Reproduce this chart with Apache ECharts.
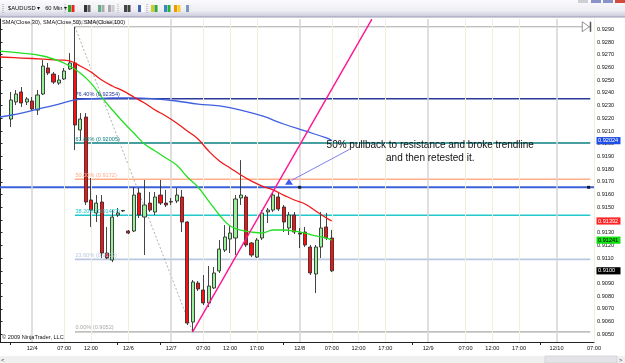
<!DOCTYPE html>
<html><head><meta charset="utf-8">
<script src="https://cdn.jsdelivr.net/npm/echarts@6/dist/echarts.min.js"></script>
<style>html,body{margin:0;padding:0;background:#fff;overflow:hidden}#c{width:625px;height:363px}</style>
</head><body><div id="c"></div>
<script>
// ---------------- data ----------------
const slotCount = 112;            // hourly slots across the x axis
const firstCandleSlot = 2;        // slot of the first visible bar
const opens  = [0.92194,0.92328,0.92407,0.92328,0.92336,0.92265,0.92391,0.92596,0.92548,0.92477,0.92509,0.92588,0.92635,0.92108,0.92210,0.91557,0.91455,0.91541,0.91140,0.91085,0.91439,0.91471,0.91313,0.91313,0.91612,0.91423,0.91533,0.91463,0.91596,0.91533,0.91541,0.91549,0.91581,0.91384,0.90597,0.90904,0.90849,0.90747,0.90865,0.90999,0.91163,0.91250,0.91258,0.91573,0.91581,0.91219,0.91108,0.91258,0.91463,0.91478,0.91581,0.91502,0.91337,0.91439,0.91297,0.91305,0.91187,0.90975,0.91187,0.91345,0.91258];
const closes = [0.92344,0.92391,0.92320,0.92352,0.92273,0.92383,0.92611,0.92556,0.92485,0.92501,0.92572,0.92635,0.92147,0.92194,0.91541,0.91478,0.91533,0.91140,0.91101,0.91423,0.91455,0.91475,0.91297,0.91596,0.91439,0.91518,0.91478,0.91581,0.91533,0.91518,0.91545,0.91596,0.91384,0.90589,0.90912,0.90857,0.90747,0.90880,0.90983,0.91171,0.91266,0.91297,0.91565,0.91596,0.91203,0.91124,0.91242,0.91455,0.91478,0.91596,0.91486,0.91384,0.91439,0.91305,0.91289,0.91203,0.90983,0.91187,0.91337,0.91258,0.91000];
const lows   = [0.92131,0.92304,0.92289,0.92304,0.92257,0.92226,0.92383,0.92540,0.92470,0.92462,0.92501,0.92580,0.91950,0.92029,0.91518,0.91345,0.91384,0.91101,0.91093,0.91069,0.91423,0.91463,0.91289,0.91305,0.91415,0.91124,0.91463,0.91439,0.91518,0.91502,0.91518,0.91533,0.91305,0.90573,0.90520,0.90841,0.90731,0.90715,0.90857,0.90983,0.91148,0.91140,0.91124,0.91518,0.91187,0.91108,0.91101,0.91242,0.91376,0.91463,0.91471,0.91305,0.91282,0.91289,0.91179,0.91187,0.90967,0.90825,0.91101,0.91242,0.90990];
const highs  = [0.92407,0.92422,0.92446,0.92367,0.92367,0.92422,0.92658,0.92635,0.92564,0.92540,0.92596,0.92713,0.92920,0.92241,0.92241,0.91730,0.91596,0.91596,0.91345,0.91478,0.91494,0.91478,0.91321,0.91659,0.91651,0.91714,0.91620,0.91620,0.91714,0.91636,0.91573,0.91651,0.91636,0.91390,0.90928,0.90920,0.90967,0.91038,0.91030,0.91242,0.91360,0.91360,0.91596,0.91871,0.91596,0.91226,0.91258,0.91478,0.91494,0.91620,0.91612,0.91518,0.91463,0.91463,0.91337,0.91345,0.91203,0.91203,0.91463,0.91455,0.91321];

const sma30  = [[0,0.92729],[4,0.92713],[8,0.92690],[11,0.92651],[13,0.92611],[15,0.92556],[17,0.92477],[19,0.92367],[21,0.92265],[23,0.92171],[25,0.92084],[27,0.91998],[29,0.91942],[31,0.91887],[33,0.91832],[35,0.91738],[37,0.91659],[39,0.91549],[41,0.91439],[43,0.91352],[45,0.91321],[47,0.91305],[49,0.91297],[51,0.91321],[53,0.91321],[55,0.91313],[57,0.91297],[59,0.91274],[61,0.91258],[62,0.91241]];
const sma50  = [[0,0.92682],[4,0.92674],[8,0.92666],[11,0.92658],[13,0.92651],[15,0.92611],[17,0.92564],[19,0.92501],[21,0.92454],[23,0.92415],[25,0.92367],[27,0.92320],[29,0.92265],[31,0.92218],[33,0.92163],[35,0.92100],[37,0.92037],[39,0.91942],[41,0.91864],[43,0.91809],[45,0.91754],[47,0.91706],[49,0.91667],[51,0.91636],[53,0.91596],[55,0.91557],[57,0.91526],[59,0.91470],[61,0.91415],[62,0.91392]];
const sma100 = [[0,0.92210],[4,0.92241],[8,0.92281],[11,0.92312],[14,0.92344],[17,0.92352],[21,0.92360],[25,0.92360],[29,0.92352],[33,0.92336],[37,0.92312],[41,0.92297],[45,0.92265],[49,0.92218],[53,0.92155],[57,0.92100],[61,0.92045],[62,0.92024]];

const fibPct   = ['100.00%','76.40%','61.80%','50.00%','38.20%','23.60%','0.00%'];
const fibPrice = [0.9292,0.92354,0.92005,0.9172,0.91437,0.9109,0.9052];
const fibHighSlot = 14, fibLowSlot = 36, fibEndSlot = 110.3;

const supportPrice = 0.91657;           // horizontal blue line
const supportMarks = [56, 110];         // small black squares on it
const trendLine = [[36,0.9052],[69.5,0.9298]];
const arrowPoint = [54,0.9170];
const arrowLine = [[54.5,0.91712],[65.3,0.91955]];
const noteLines = ['50% pullback to resistance and broke trendline','and then retested it.'];
const noteAnchor = [[80.4,0.91990],[80.4,0.91888]];

const priceTicks = [0.905,0.906,0.907,0.908,0.909,0.910,0.911,0.912,0.913,0.914,0.915,0.916,0.917,0.918,0.919,0.920,0.921,0.922,0.923,0.924,0.925,0.926,0.927,0.928,0.929];
const timeLabels = ['12/4','07:00','12:00','12/6','12/7','07:00','12:00','17:00','12/8','07:00','12:00','17:00','12/9','07:00','12:00','17:00','12/10','07:00'];
const timeLabelSlots = [6,12,17,24,32,38,43,48,56,62,67,72,80,87,92,97,104,111];
const dayStartSlots = [6,32,56,80,104];
const sessionTickSlots = [2,22,30,53,77,101];

// ---------------- chart ----------------
const FONT = '"Liberation Sans", Arial, sans-serif';
const chart = echarts.init(document.getElementById('c'), null, {renderer:'canvas'});
const slots = Array.from({length: slotCount}, (_, i) => 's' + i);
const candleData = slots.map((_, i) => {
  const k = i - firstCandleSlot;
  return (k >= 0 && k < opens.length) ? [opens[k], closes[k], lows[k], highs[k]] : '-';
});
const fibColors = ['#a8a8a8','#2c3a9a','#0a7f7f','#ffac88','#22c8cc','#b8c8e0','#a8a8a8'];

const gridLines = timeLabelSlots.map(s => ({
  xAxis: s,
  lineStyle: dayStartSlots.includes(s) ? {color:'#d4d4d4', width:1.5, type:'solid'} : {color:'#f1eedf', width:1, type:'solid'}
}));

const series = [];
series.push({type:'line', xAxisIndex:1, data:[], silent:true, z:1,
  markLine:{symbol:'none', silent:true, animation:false, label:{show:false}, data:gridLines}});
fibPrice.forEach((p, k) => {
  series.push({type:'line', xAxisIndex:1, data:[[fibHighSlot,p],[fibEndSlot,p]], symbol:'none', silent:true, z:2,
    lineStyle:{color:fibColors[k], width: k===0||k===6 ? 1.2 : 1.6}});
});
series.push({type:'line', xAxisIndex:1, data:[[0,supportPrice],[111,supportPrice]], symbol:'none', z:3,
  lineStyle:{color:'#3a62d8', width:2}});
series.push({type:'line', xAxisIndex:1, data:[[fibHighSlot,fibPrice[0]],[fibLowSlot,fibPrice[6]]], symbol:'none', z:3,
  lineStyle:{color:'#9a9a9a', width:0.8, type:[2,2]}});
series.push({type:'candlestick', xAxisIndex:0, data:candleData, barWidth:3.6, z:5,
  itemStyle:{color:'#98f098', color0:'#ff1010', borderColor:'#303030', borderColor0:'#303030', borderWidth:0.9}});
series.push({type:'line', xAxisIndex:1, data:sma100, symbol:'none', smooth:0.4, z:6, lineStyle:{color:'#3e5fe0', width:1.3}});
series.push({type:'line', xAxisIndex:1, data:sma50, symbol:'none', smooth:0.4, z:6, lineStyle:{color:'#f01818', width:1.3}});
series.push({type:'line', xAxisIndex:1, data:sma30, symbol:'none', smooth:0.4, z:6, lineStyle:{color:'#22e022', width:1.3}});
series.push({type:'line', xAxisIndex:1, data:trendLine, symbol:'none', z:7, lineStyle:{color:'#ff1493', width:1.4}});
series.push({type:'line', xAxisIndex:1, data:arrowLine, symbol:'none', z:7, lineStyle:{color:'#7070f0', width:0.9}});
series.push({type:'scatter', xAxisIndex:1, data:[arrowPoint], symbol:'triangle', symbolSize:[8,6], z:8, itemStyle:{color:'#1030f0'}});
series.push({type:'scatter', xAxisIndex:1, data:supportMarks.map(s=>[s,supportPrice]), symbol:'rect', symbolSize:3, z:8, itemStyle:{color:'#000'}});

chart.setOption({
  animation:false,
  backgroundColor:'#ffffff',
  textStyle:{fontFamily:FONT},
  grid:{left:0, right:31, top:19, bottom:21, containLabel:false, outerBoundsMode:'none'},
  xAxis:[
    {type:'category', data:slots, boundaryGap:false, show:false},
    {type:'value', min:0, max:slotCount-1, position:'bottom',
      axisLine:{show:true, lineStyle:{color:'#222', width:1}},
      axisTick:{show:true, length:3, inside:false, customValues:sessionTickSlots, lineStyle:{color:'#222'}},
      axisLabel:{show:true, customValues:timeLabelSlots, margin:3, fontSize:5.6, color:'#111', fontFamily:FONT,
        formatter:v => { const k = timeLabelSlots.indexOf(v); return k >= 0 ? timeLabels[k] : ''; }},
      splitLine:{show:false}}
  ],
  yAxis:{type:'value', position:'right', min:0.9044, max:0.92981, scale:true,
    axisLine:{show:true, lineStyle:{color:'#222', width:1}},
    axisTick:{show:true, length:2.5, customValues:priceTicks, lineStyle:{color:'#222'}},
    axisLabel:{customValues:priceTicks, margin:3, fontSize:5.6, color:'#111', fontFamily:FONT, formatter:v => v.toFixed(4)},
    splitLine:{show:false}},
  series
});

// ---------------- overlay graphics ----------------
function px(slot, price){ return chart.convertToPixel({xAxisIndex:1, yAxisIndex:0}, [slot, price]); }
const g = [];
// toolbar
g.push({type:'rect', shape:{x:0,y:0,width:625,height:17}, style:{fill:new echarts.graphic.LinearGradient(0,0,0,1,[{offset:0,color:'#fbfbfd'},{offset:0.6,color:'#eeeef4'},{offset:1,color:'#c9c9dc'}])}, z:50});
g.push({type:'line', shape:{x1:0,y1:17,x2:625,y2:17}, style:{stroke:'#9a9ab4', lineWidth:1}, z:50});
g.push({type:'text', x:8, y:8.5, style:{text:'$AUDUSD \u25BE   60 Min \u25BE', fontSize:5.8, fontFamily:FONT, fill:'#111', verticalAlign:'middle'}, z:51});
[[3,'#999'],[65,'#aaa'],[118,'#aaa'],[147,'#aaa']].forEach(([x,c]) => g.push({type:'line', shape:{x1:x,y1:4,x2:x,y2:13}, style:{stroke:c, lineWidth:1, lineDash:[1,1]}, z:51}));
const icons = [[68,'#2a2','#e22'],[84,'#333','#666'],[98,'#6a8','#aaa'],[108,'#aaa','#ccc'],[124,'#444','#444'],[138,'#46a','#fff'],[151,'#cc3','#3a3'],[164,'#38c','#3a3'],[174,'#e90','#fc3'],[186,'#79b','#eee']];
icons.forEach(([x,c1,c2]) => {
  g.push({type:'rect', shape:{x:x,y:5,width:3,height:7}, style:{fill:c1}, z:51});
  g.push({type:'rect', shape:{x:x+3.5,y:5,width:3,height:7}, style:{fill:c2}, z:51});
});
[[578,'#cfcfd6'],[591,'#8a93c8'],[603,'#8a93c8'],[615,'#d24a3a']].forEach(([x,c]) => g.push({type:'rect', shape:{x:x,y:0,width:10,height:3}, style:{fill:c}, z:51}));
// indicator legend and copyright
g.push({type:'text', x:2, y:22.5, style:{text:'SMA(Close,30), SMA(Close,50), SMA(Close,100)', fontSize:5.6, fontFamily:FONT, fill:'#111', verticalAlign:'middle'}, z:40});
g.push({type:'text', x:2, y:337, style:{text:'\u00A9 2009 NinjaTrader, LLC', fontSize:5.6, fontFamily:FONT, fill:'#111', verticalAlign:'middle'}, z:40});
// fib labels
fibPrice.forEach((p, k) => {
  const pt = px(fibHighSlot, p);
  g.push({type:'text', x:pt[0]+0.5, y:pt[1]-1, style:{text:fibPct[k] + ' (' + String(p) + ')', fontSize:5.6, fontFamily:FONT, fill:fibColors[k], verticalAlign:'bottom'}, z:30});
});
// end marker of the fib tool
const fibTop = px(fibEndSlot, fibPrice[0]);
g.push({type:'polygon', shape:{points:[[fibTop[0]-8,fibTop[1]-5],[fibTop[0]-1,fibTop[1]],[fibTop[0]-8,fibTop[1]+5]]}, style:{fill:'#fff', stroke:'#777', lineWidth:0.8}, z:30});
g.push({type:'rect', shape:{x:fibTop[0]-0.5,y:fibTop[1]-5,width:1.5,height:10}, style:{fill:'#555'}, z:30});
// note text
noteLines.forEach((t, k) => {
  const pt = px(noteAnchor[k][0], noteAnchor[k][1]);
  g.push({type:'text', x:pt[0], y:pt[1], style:{text:t, fontSize:10, fontFamily:FONT, fill:'#111', align:'center', verticalAlign:'middle'}, z:30});
});
// last value tags on the price axis
const tags = [
  [sma100[sma100.length-1][1], sma100[sma100.length-1][1].toFixed(5), '#1f4fe6', '#fff'],
  [sma50[sma50.length-1][1], sma50[sma50.length-1][1].toFixed(5), '#ff2424', '#fff'],
  [sma30[sma30.length-1][1], sma30[sma30.length-1][1].toFixed(5), '#10e010', '#000'],
  [closes[closes.length-1], closes[closes.length-1].toFixed(4), '#000', '#fff']
];
tags.forEach(([v, t, bg, fg]) => {
  const y = px(0, v)[1];
  g.push({type:'rect', shape:{x:596.5,y:y-3.6,width:24,height:7.2}, style:{fill:bg}, z:45});
  g.push({type:'text', x:598, y:y, style:{text:t, fontSize:5.6, fontFamily:FONT, fill:fg, verticalAlign:'middle'}, z:46});
});
// scrollbar strip
g.push({type:'rect', shape:{x:0,y:356,width:625,height:7}, style:{fill:'#f0f0f0'}, z:40});
g.push({type:'rect', shape:{x:545,y:356,width:72,height:7}, style:{fill:'#e4e4e8', stroke:'#c8c8cc', lineWidth:0.6}, z:41});
g.push({type:'text', x:1, y:360, style:{text:'<', fontSize:6, fontFamily:FONT, fill:'#333', verticalAlign:'middle'}, z:42});
g.push({type:'text', x:619, y:360, style:{text:'>', fontSize:6, fontFamily:FONT, fill:'#333', verticalAlign:'middle'}, z:42});

chart.setOption({graphic: g});
</script></body></html>
